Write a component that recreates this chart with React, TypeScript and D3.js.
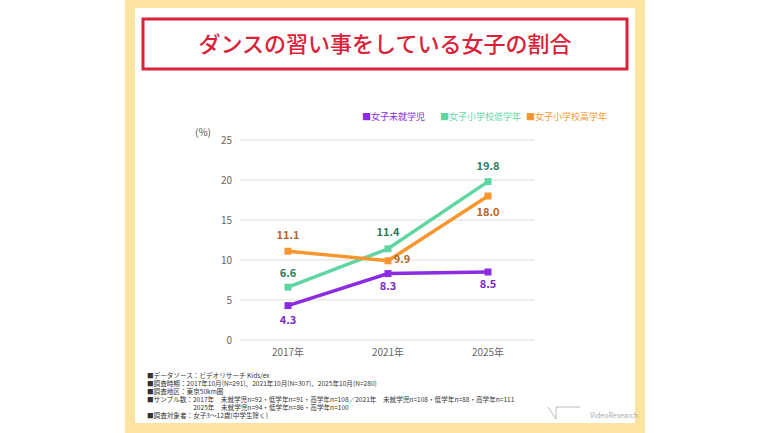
import React from "react";
import * as d3 from "d3";

const years = ["2017年", "2021年", "2025年"];
const seriesNames = ["女子未就学児", "女子小学校低学年", "女子小学校高学年"];
const preschool = [4.3, 8.3, 8.5];
const lower = [6.6, 11.4, 19.8];
const upper = [11.1, 9.9, 18.0];
const yTicks = [0, 5, 10, 15, 20, 25];
const notes = [
  "■データソース：ビデオリサーチ Kids/ex",
  "■調査時期：2017年10月(N=291)、2021年10月(N=307)、2025年10月(N=280)",
  "■調査地区：東京50km圏",
  "■サンプル数：2017年　未就学児n=92・低学年n=91・高学年n=108／2021年　未就学児n=108・低学年n=88・高学年n=111",
  "　　　　　　　2025年　未就学児n=94・低学年n=86・高学年n=100",
  "■調査対象者：女子3～12歳(中学生除く)",
];

export default function App() {
  const x = d3.scalePoint<string>().domain(years).range([288, 488]);
  const y = d3.scaleLinear().domain([0, 25]).range([340, 140]);
  const line = d3.line<number>().x((_, i) => x(years[i])!).y((d) => y(d));
  const series = [
    { name: seriesNames[0], data: preschool, color: "#8B2BE2", text: "#7A2BC8", off: [18, 16, 16] },
    { name: seriesNames[1], data: lower, color: "#5FD6A2", text: "#2E7D5B", off: [-10, -13, -12] },
    { name: seriesNames[2], data: upper, color: "#F7962F", text: "#B8651A", off: [-12, 2, 20] },
  ];
  const font = "'Noto Sans CJK JP', sans-serif";
  return (
    <svg width={770} height={433} style={{ position: "absolute", left: 0, top: 0 }} fontFamily={font}>
      <rect width={770} height={433} fill="#fff" />
      <rect x={125} y={0} width={520} height={433} fill="#FDE3A0" />
      <rect x={135} y={8} width={500} height={415} fill="#fff" />
      <rect x={143} y={19} width={484} height={50} fill="#fff" stroke="#D9223A" strokeWidth={3} />
      <text x={385} y={52} textAnchor="middle" fontSize={22} fill="#D9223A" fontWeight={500}>ダンスの習い事をしている女子の割合</text>
      {series.map((s, i) => {
        const xs = [362, 440, 526][i];
        return (
          <text key={s.name} x={xs} y={120} fontSize={9} fill={s.color}>■{s.name}</text>
        );
      })}
      <text x={195} y={136} fontSize={10} fill="#555">(%)</text>
      {yTicks.map((t) => (
        <g key={t}>
          <line x1={240} x2={535} y1={y(t)} y2={y(t)} stroke="#ddd" strokeWidth={1} />
          <text x={232} y={y(t) + 4} textAnchor="end" fontSize={10} fill="#666">{t}</text>
        </g>
      ))}
      {years.map((yr) => (
        <text key={yr} x={x(yr)} y={356} textAnchor="middle" fontSize={10} fill="#666">{yr}</text>
      ))}
      {series.map((s) => (
        <g key={s.name}>
          <path d={line(s.data)!} fill="none" stroke={s.color} strokeWidth={3.5} />
          {s.data.map((v, i) => (
            <rect key={i} x={x(years[i])! - 3.5} y={y(v) - 3.5} width={7} height={7} fill={s.color} />
          ))}
          {s.data.map((v, i) => (
            <text key={"t" + i} x={x(years[i])! + (s.name === seriesNames[2] && i === 1 ? 14 : 0)} y={y(v) + s.off[i]}
              textAnchor="middle" fontSize={11} fontWeight={700} fill={s.text}>{v.toFixed(1)}</text>
          ))}
        </g>
      ))}
      {notes.map((n, i) => (
        <text key={i} x={147} y={378 + i * 8} fontSize={6.6} fill="#333" style={{ whiteSpace: "pre" }}>{n}</text>
      ))}
      <text x={590} y={418} fontSize={7} fill="#aaa">VideoResearch</text>
      <path d="M548,407 L556,419 L556,407 L580,407" fill="none" stroke="#bbb" strokeWidth={1} />
    </svg>
  );
}
